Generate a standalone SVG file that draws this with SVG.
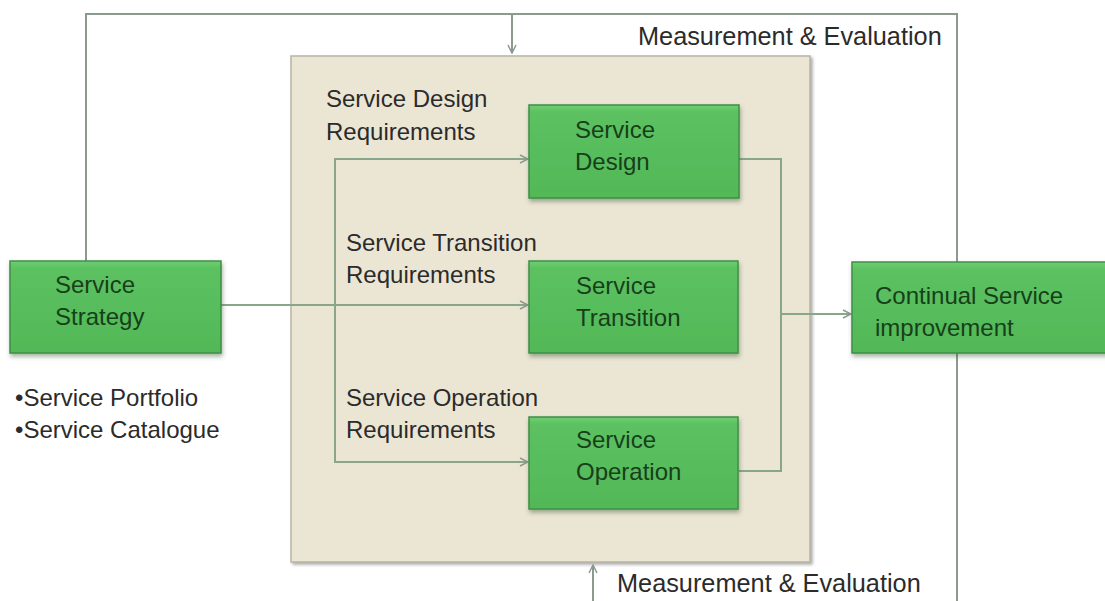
<svg xmlns="http://www.w3.org/2000/svg" width="1105" height="601" viewBox="0 0 1105 601">
<style>
  .lbl { font-family: "Liberation Sans", Arial, sans-serif; font-size: 24px; fill: #2b2b2b; }
  .me { font-size: 25.3px; }
  .btxt { font-family: "Liberation Sans", Arial, sans-serif; font-size: 24px; fill: #173f1a; }
  .box { fill: url(#g); stroke: #3f8f45; stroke-width: 1.5; filter: url(#sh); }
  .line { fill: none; stroke: #8a9a8c; stroke-width: 2; }
  .inner { fill: none; stroke: #8aa68a; stroke-width: 2; }
</style>
<defs>
  <linearGradient id="g" x1="0" y1="0" x2="0" y2="1">
    <stop offset="0" stop-color="#6fcf72"/>
    <stop offset="0.08" stop-color="#5cc161"/>
    <stop offset="1" stop-color="#52b857"/>
  </linearGradient>
  <filter id="sh" x="-10%" y="-10%" width="125%" height="130%">
    <feDropShadow dx="1" dy="3" stdDeviation="2" flood-color="#3a5a3a" flood-opacity="0.45"/>
  </filter>
  <filter id="sh2" x="-5%" y="-5%" width="110%" height="110%">
    <feDropShadow dx="2" dy="2" stdDeviation="1.5" flood-color="#777" flood-opacity="0.6"/>
  </filter>
  <marker id="ah" viewBox="0 0 10 10" refX="9" refY="5" markerWidth="10" markerHeight="10" markerUnits="userSpaceOnUse" orient="auto">
    <path d="M1,1 L9,5 L1,9" fill="none" stroke="#8a9a8c" stroke-width="1.5"/>
  </marker>
</defs>
<rect width="1105" height="601" fill="#ffffff"/>

<g id="container">
  <rect x="291" y="56" width="519" height="506" fill="#ebe5d4" stroke="#b8b4a6" stroke-width="1.5" filter="url(#sh2)"/>
</g>

<g id="connectors">
  <polyline class="line" points="86,261 86,14 957,14 957,262"/>
  <line class="line" x1="512" y1="14" x2="512" y2="53" marker-end="url(#ah)"/>
  <line class="line" x1="957" y1="353" x2="957" y2="601"/>
  <line class="line" x1="593" y1="601" x2="593" y2="565" marker-end="url(#ah)"/>
  <line class="inner" x1="221" y1="305" x2="528" y2="305" marker-end="url(#ah)"/>
  <polyline class="inner" points="528,159 335,159 335,462 528,462"/>
  <line class="inner" x1="500" y1="159" x2="528" y2="159" marker-end="url(#ah)"/>
  <line class="inner" x1="500" y1="462" x2="528" y2="462" marker-end="url(#ah)"/>
  <polyline class="inner" points="739,159 781,159 781,471 739,471"/>
  <line class="inner" x1="781" y1="314" x2="851" y2="314" marker-end="url(#ah)"/>
</g>

<g id="service-strategy">
  <rect class="box" x="10" y="261" width="211" height="92"/>
  <text class="btxt" x="55" y="293">Service</text>
  <text class="btxt" x="55" y="325">Strategy</text>
</g>

<g id="service-design">
  <rect class="box" x="529" y="105" width="210" height="93"/>
  <text class="btxt" x="575" y="138">Service</text>
  <text class="btxt" x="575" y="170">Design</text>
</g>

<g id="service-transition">
  <rect class="box" x="529" y="261" width="209" height="92"/>
  <text class="btxt" x="576" y="294">Service</text>
  <text class="btxt" x="576" y="326">Transition</text>
</g>

<g id="service-operation">
  <rect class="box" x="529" y="417" width="209" height="92"/>
  <text class="btxt" x="576" y="448">Service</text>
  <text class="btxt" x="576" y="480">Operation</text>
</g>

<g id="csi">
  <rect class="box" x="852" y="262" width="270" height="91"/>
  <text class="btxt" x="875" y="304">Continual Service</text>
  <text class="btxt" x="875" y="336">improvement</text>
</g>

<g id="labels">
  <text class="lbl me" x="638" y="45">Measurement &amp; Evaluation</text>
  <text class="lbl me" x="617" y="592">Measurement &amp; Evaluation</text>
  <text class="lbl" x="326" y="107">Service Design</text>
  <text class="lbl" x="326" y="140">Requirements</text>
  <text class="lbl" x="346" y="251">Service Transition</text>
  <text class="lbl" x="346" y="283">Requirements</text>
  <text class="lbl" x="346" y="406">Service Operation</text>
  <text class="lbl" x="346" y="438">Requirements</text>
  <text class="lbl" x="15" y="406">•Service Portfolio</text>
  <text class="lbl" x="15" y="438">•Service Catalogue</text>
</g>
</svg>
